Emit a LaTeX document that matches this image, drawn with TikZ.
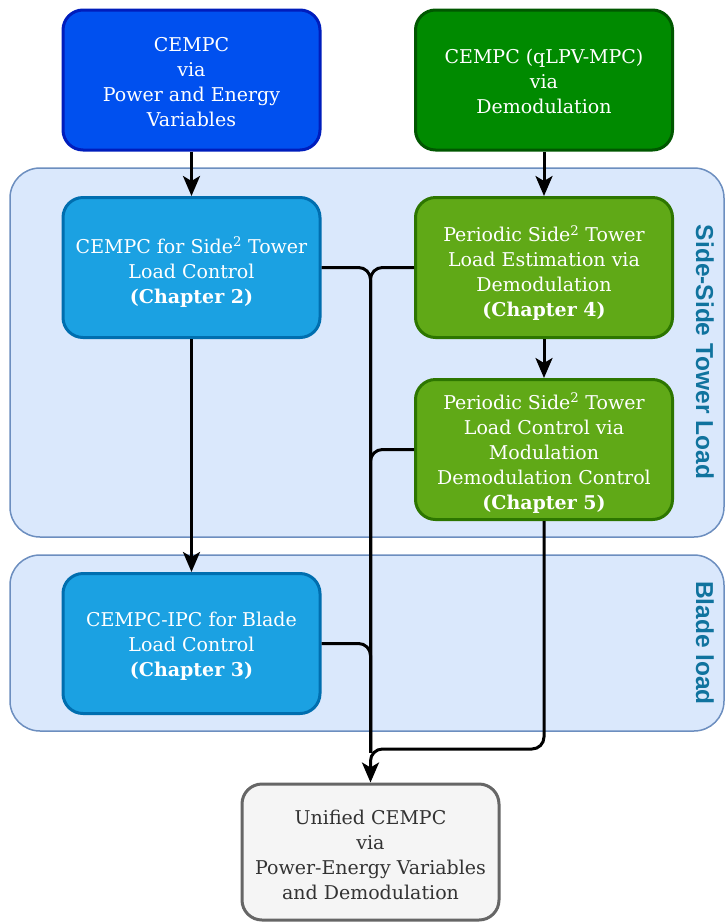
\documentclass[tikz,border=0pt]{standalone}
\usepackage{fontspec}
\setmainfont{DejaVu Serif}
\newfontfamily\labelfont{Liberation Sans}
\usetikzlibrary{arrows.meta,calc}
\definecolor{regfill}{HTML}{DAE8FC}
\definecolor{regdraw}{HTML}{6C8EBF}
\definecolor{bluefill}{HTML}{0050EF}
\definecolor{bluedraw}{HTML}{001DBC}
\definecolor{greenfill}{HTML}{008A00}
\definecolor{greendraw}{HTML}{005700}
\definecolor{cyanfill}{HTML}{1BA1E2}
\definecolor{cyandraw}{HTML}{006EAF}
\definecolor{limefill}{HTML}{60A917}
\definecolor{limedraw}{HTML}{2D7600}
\definecolor{greyfill}{HTML}{F5F5F5}
\definecolor{greydraw}{HTML}{666666}
\definecolor{greytext}{HTML}{333333}
\definecolor{labeltext}{HTML}{10739E}
\newcommand{\lowtext}[2]{\raisebox{-#1}[\height][\depth]{\begin{tabular}{@{}c@{}}#2\end{tabular}}}
\tikzset{
  region/.style={draw=regdraw, fill=regfill, line width=1.5pt, rounded corners=30pt},
  box/.style={rectangle, rounded corners=20pt, line width=3pt, minimum width=257pt, minimum height=140pt,
    inner sep=0pt, align=center, text=white, font=\fontsize{19}{25}\selectfont},
  bluebox/.style={box, fill=bluefill, draw=bluedraw},
  greenbox/.style={box, fill=greenfill, draw=greendraw},
  cyanbox/.style={box, fill=cyanfill, draw=cyandraw},
  limebox/.style={box, fill=limefill, draw=limedraw},
  greybox/.style={box, fill=greyfill, draw=greydraw, text=greytext},
  conn/.style={line width=3pt, rounded corners=12pt},
  arr/.style={conn, -{Stealth[length=20pt, width=17pt, inset=5pt]}},
  grouplabel/.style={text=labeltext, font=\labelfont\bfseries\fontsize{24.5}{28}\selectfont, rotate=-90}
}
\begin{document}
\begin{tikzpicture}[x=1pt, y=-1pt]
\useasboundingbox (0,0) rectangle (725,922);
% regions
\draw[region] (10,168) rectangle (724,537);
\draw[region] (10,555) rectangle (724,731);
\node[grouplabel] (lab1) at (705,352) {Side-Side Tower Load};
\node[grouplabel] (lab2) at (705,643) {Blade load};
% boxes
\node[bluebox] (tl) at (191.5,80) {\lowtext{4pt}{CEMPC\\via\\Power and Energy\\Variables}};
\node[greenbox] (tr) at (544,80) {\lowtext{3pt}{CEMPC (qLPV-MPC)\\via\\Demodulation}};
\node[cyanbox] (ch2) at (191.5,267.5) {\lowtext{5.5pt}{CEMPC for Side\textsuperscript{2} Tower\\Load Control\\\textbf{(Chapter 2)}}};
\node[limebox] (ch4) at (544,267.5) {\lowtext{6.5pt}{Periodic Side\textsuperscript{2} Tower\\Load Estimation via\\Demodulation\\\textbf{(Chapter 4)}}};
\node[limebox] (ch5) at (544,449.5) {\lowtext{4.5pt}{Periodic Side\textsuperscript{2} Tower\\Load Control via\\Modulation\\Demodulation Control\\\textbf{(Chapter 5)}}};
\node[cyanbox] (ch3) at (191.5,643.5) {\lowtext{3pt}{CEMPC-IPC for Blade\\Load Control\\\textbf{(Chapter 3)}}};
\node[greybox, minimum height=136pt] (uni) at (370.5,852) {\lowtext{5pt}{Unified CEMPC\\via\\Power-Energy Variables\\and Demodulation}};
% connectors
\coordinate (merge) at ($(uni.north)+(0,-30)$);
\draw[arr] (tl) -- (ch2);
\draw[arr] (tr) -- (ch4);
\draw[arr] (ch2) -- (ch3);
\draw[arr] (ch4) -- (ch5);
\coordinate (bend) at ($(ch5.south)+(0,228)$);
\draw[arr] (ch5.south) -- (bend) -| (uni.north);
\draw[conn] (ch2.east) -| (merge);
\draw[conn] (ch4.west) -| (merge);
\draw[conn] (ch5.west) -| (merge);
\draw[conn] (ch3.east) -| (merge);
\end{tikzpicture}
\end{document}
